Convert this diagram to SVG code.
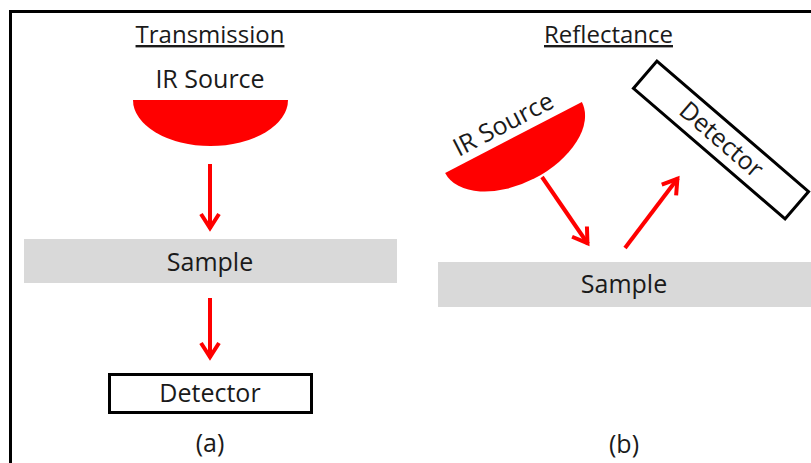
<svg xmlns="http://www.w3.org/2000/svg" width="811" height="463" viewBox="0 0 811 463">
<style>
.t{font-family:"Open Sans","Liberation Sans",sans-serif;font-size:25px;fill:#1a1a1a;text-anchor:middle}
.u{text-decoration:underline;font-size:24px}
.src{fill:#ff0000}
.smp{fill:#d9d9d9}
.det{fill:#fff;stroke:#000;stroke-width:3}
.arr{stroke:#ff0000;stroke-width:4;fill:none;marker-end:url(#ah)}
</style>
<defs>
<marker id="ah" viewBox="-18 -12 22 24" refX="0" refY="0" markerWidth="22" markerHeight="24" markerUnits="userSpaceOnUse" orient="auto">
<path d="M-15,-9 L-1,0 L-15,9" fill="none" stroke="#ff0000" stroke-width="4"/>
</marker>
</defs>
<rect width="811" height="463" fill="#fff"/>
<g id="frame" fill="none" stroke="#000" stroke-width="3">
<path d="M10.5,463 V11.5 H811"/>
</g>
<g id="title-a"><text class="t u" x="210" y="43">Transmission</text></g>
<g id="title-b"><text class="t u" x="608.5" y="43">Reflectance</text></g>
<g id="src-a">
<text class="t" x="210" y="88">IR Source</text>
<path class="src" d="M133,100 L288,100 A77.5,46 0 0 1 133,100 Z"/>
</g>
<g id="sample-a">
<rect class="smp" x="24" y="239" width="373" height="44"/>
<text class="t" x="210" y="271">Sample</text>
</g>
<g id="det-a">
<rect class="det" x="109.5" y="374.5" width="202" height="38"/>
<text class="t" x="210" y="402">Detector</text>
</g>
<g id="label-a"><text class="t" x="210" y="452">(a)</text></g>
<g id="src-b" transform="translate(513.5,137.5) rotate(-27.4)">
<path class="src" d="M-77,0 L77,0 A77,46 0 0 1 -77,0 Z"/>
<text class="t" x="-3" y="-8">IR Source</text>
</g>
<g id="sample-b">
<rect class="smp" x="438" y="262" width="373" height="45"/>
<text class="t" x="624" y="293">Sample</text>
</g>
<g id="det-b" transform="translate(721,140) rotate(40.7)">
<rect class="det" x="-100" y="-18" width="200" height="36"/>
<text class="t" x="0" y="8">Detector</text>
</g>
<g id="label-b"><text class="t" x="624" y="453">(b)</text></g>
<g id="connectors">
<line class="arr" x1="210" y1="164" x2="210" y2="229"/>
<line class="arr" x1="210" y1="298" x2="210" y2="358"/>
<line class="arr" x1="542" y1="177" x2="588" y2="244"/>
<line class="arr" x1="625" y1="248" x2="678" y2="178"/>
</g>
</svg>
